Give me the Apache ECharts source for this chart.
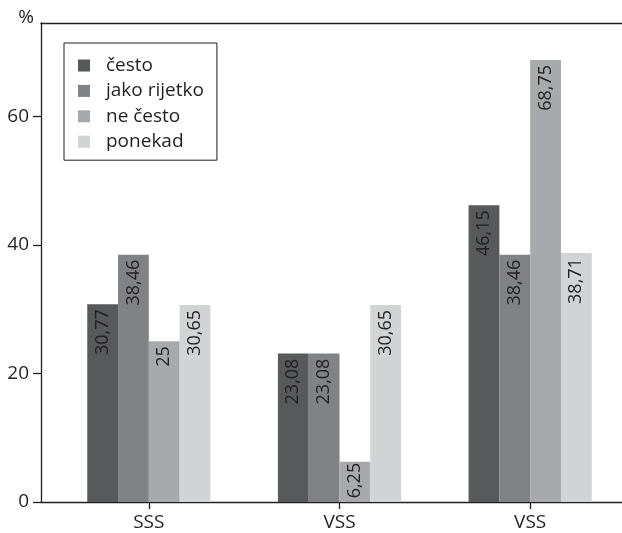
<!DOCTYPE html>
<html>
<head>
<meta charset="utf-8">
<script src="https://cdn.jsdelivr.net/npm/echarts@6/dist/echarts.min.js"></script>
<style>
html,body{margin:0;padding:0;background:#fff;}
#chart{width:622px;height:533px;}
</style>
</head>
<body>
<div id="chart"></div>
<script>
var categories = ['SSS', 'VSS', 'VSS'];
var seriesNames = ['često', 'jako rijetko', 'ne često', 'ponekad'];
var cesto = [30.77, 23.08, 46.15];
var jakoRijetko = [38.46, 23.08, 38.46];
var neCesto = [25, 6.25, 68.75];
var ponekad = [30.65, 30.65, 38.71];
var yTicks = [0, 20, 40, 60];
var yMax = 74.5;

var seriesValues = [cesto, jakoRijetko, neCesto, ponekad];
var colors = ['#58595b', '#808285', '#a7a9ac', '#d1d3d4'];
var FONT = 'Open Sans';
var INK = '#231f20';
var FS = 19;

var chart = echarts.init(document.getElementById('chart'), null, {renderer: 'canvas'});

var series = seriesValues.map(function (vals, i) {
  return {
    name: seriesNames[i],
    type: 'bar',
    xAxisIndex: 0,
    yAxisIndex: 0,
    barGap: '0%',
    barCategoryGap: '35.4%',
    itemStyle: {color: colors[i]},
    emphasis: {disabled: true},
    data: vals.map(function (v) {
      return {
        value: v,
        label: {distance: v < 10 ? 1 : 5}
      };
    }),
    label: {
      show: true,
      position: 'insideTop',
      rotate: 90,
      align: 'right',
      verticalAlign: 'middle',
      color: INK,
      fontFamily: FONT,
      fontSize: 18,
      formatter: function (p) { return String(p.value).replace('.', ','); }
    }
  };
});

var option = {
  animation: false,
  backgroundColor: '#ffffff',
  color: colors,
  textStyle: {fontFamily: FONT},
  legend: {
    orient: 'vertical',
    left: 64,
    top: 43,
    padding: [13, 13, 9, 14],
    itemGap: 6.4,
    itemWidth: 12,
    itemHeight: 12,
    icon: 'rect',
    borderColor: INK,
    borderWidth: 1,
    backgroundColor: '#ffffff',
    selectedMode: false,
    textStyle: {color: INK, fontFamily: FONT, fontSize: FS, padding: [0, 0, 0, 11]},
    data: seriesNames
  },
  grid: [
    {left: 53.5, width: 572, top: 23, height: 479, outerBoundsMode: 'none', containLabel: false},
    {left: 41, right: 0, top: 23, height: 479, outerBoundsMode: 'none', containLabel: false}
  ],
  xAxis: [
    {
      type: 'category',
      gridIndex: 0,
      data: categories,
      axisLine: {show: false},
      axisTick: {show: true, alignWithLabel: true, length: 7, lineStyle: {color: INK, width: 1.3}},
      axisLabel: {color: INK, fontFamily: FONT, fontSize: FS, margin: 11, interval: 0},
      splitLine: {show: false}
    },
    {
      type: 'value',
      gridIndex: 1,
      position: 'bottom',
      min: 0, max: 1,
      axisLine: {show: true, onZero: false, lineStyle: {color: INK, width: 1.3}},
      axisTick: {show: false},
      axisLabel: {show: false},
      splitLine: {show: false}
    },
    {
      type: 'value',
      gridIndex: 1,
      position: 'top',
      min: 0, max: 1,
      axisLine: {show: true, onZero: false, lineStyle: {color: INK, width: 1.3}},
      axisTick: {show: false},
      axisLabel: {show: false},
      splitLine: {show: false}
    }
  ],
  yAxis: [
    {
      type: 'value',
      gridIndex: 0,
      min: 0, max: yMax,
      show: false,
      splitLine: {show: false}
    },
    {
      type: 'value',
      gridIndex: 1,
      min: 0, max: yMax,
      name: '%',
      nameLocation: 'end',
      nameGap: 5,
      nameTextStyle: {color: INK, fontFamily: FONT, fontSize: FS, align: 'right', verticalAlign: 'middle', padding: [0, 7, 0, 0]},
      axisLine: {show: true, onZero: false, lineStyle: {color: INK, width: 1.3}},
      axisTick: {show: true, length: 8, customValues: yTicks, lineStyle: {color: INK, width: 1.3}},
      axisLabel: {show: true, customValues: yTicks, color: INK, fontFamily: FONT, fontSize: FS, margin: 12},
      splitLine: {show: false}
    }
  ],
  series: series
};

chart.setOption(option);
</script>
</body>
</html>
